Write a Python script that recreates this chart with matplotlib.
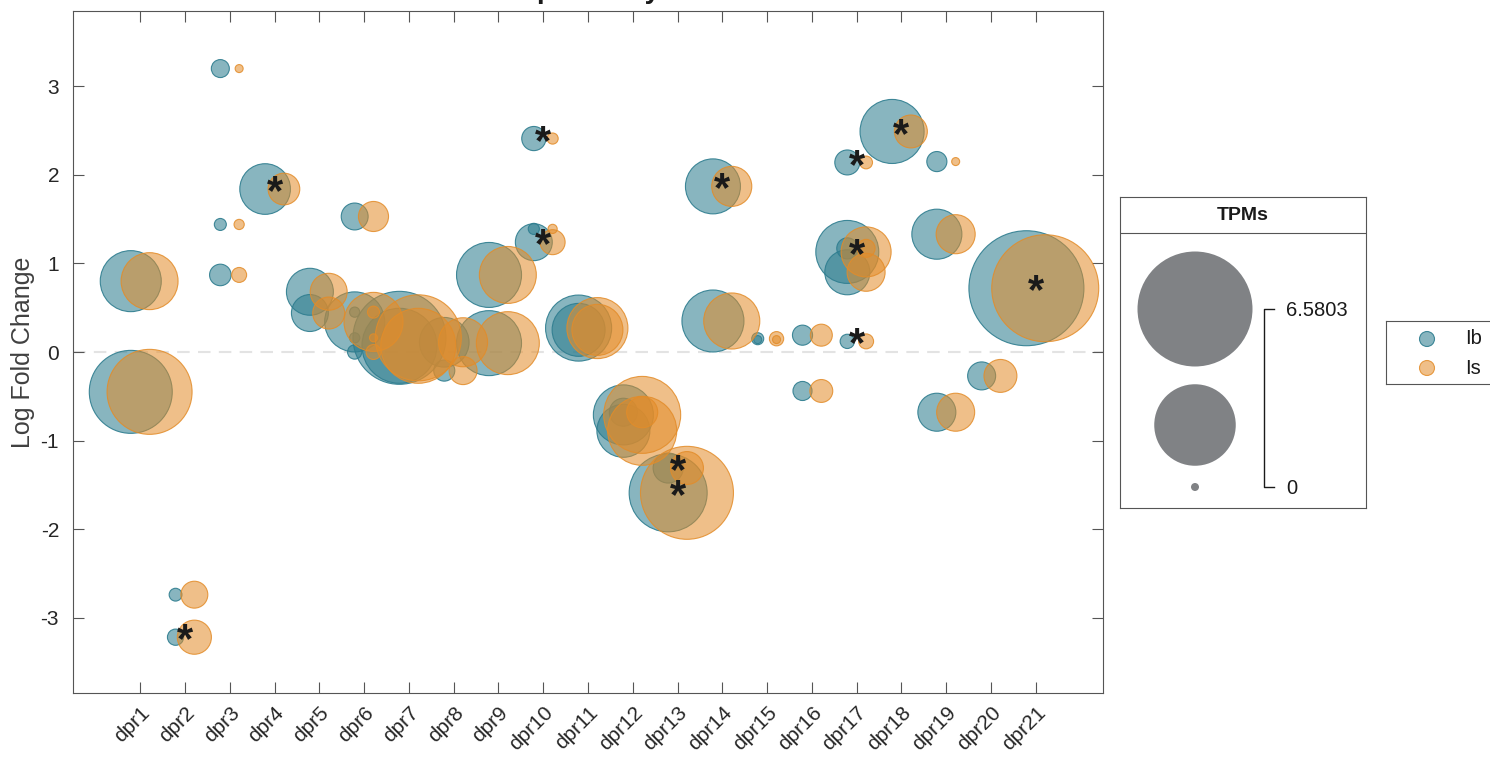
import numpy as np
import matplotlib.pyplot as plt
from matplotlib.transforms import ScaledTranslation

plt.rcParams['font.family'] = ['Liberation Sans', 'DejaVu Sans']
plt.rcParams['axes.unicode_minus'] = False

genes = ['dpr%d' % i for i in range(1, 22)]

# one row per transcript: gene number, log fold change, TPM in Ib, TPM in Is, significant
row_gene = [1, 1, 2, 2, 3, 3, 3, 4, 5, 5,
            6, 6, 6, 6, 6, 7, 7, 8, 8, 9,
            9, 10, 10, 10, 11, 11, 12, 12, 12, 13,
            13, 14, 14, 15, 15, 16, 16, 17, 17, 17,
            17, 17, 18, 19, 19, 19, 20, 21]
lfc = [0.80, -0.45, -2.74, -3.22, 3.20, 1.44, 0.87, 1.84, 0.68, 0.44,
       1.53, 0.34, 0.45, 0.16, 0.00, 0.16, 0.07, 0.11, -0.21, 0.87,
       0.10, 2.41, 1.24, 1.39, 0.27, 0.25, -0.71, -0.89, -0.68, -1.31,
       -1.59, 1.87, 0.35, 0.15, 0.14, 0.19, -0.44, 2.14, 1.13, 0.90,
       1.17, 0.12, 2.49, 2.15, 1.33, -0.68, -0.27, 0.72]
tpm_ib = [1.83, 3.41, 0.05, 0.10, 0.13, 0.04, 0.20, 1.25, 1.07, 0.65,
          0.33, 1.77, 0.02, 0.02, 0.07, 4.29, 2.78, 1.20, 0.19, 2.08,
          2.08, 0.26, 0.65, 0.03, 2.15, 1.37, 1.77, 1.37, 0.36, 0.42,
          3.01, 1.48, 1.89, 0.04, 0.00, 0.17, 0.15, 0.28, 1.95, 0.98,
          0.19, 0.07, 2.02, 0.17, 1.22, 0.69, 0.36, 6.58]
tpm_is = [1.59, 3.58, 0.33, 0.55, 0.00, 0.02, 0.08, 0.47, 0.65, 0.48,
          0.42, 1.71, 0.04, 0.00, 0.08, 3.67, 2.78, 1.17, 0.36, 1.59,
          1.95, 0.03, 0.28, 0.01, 1.83, 1.27, 2.93, 2.35, 0.45, 0.51,
          4.29, 0.77, 1.54, 0.07, 0.00, 0.21, 0.23, 0.05, 1.22, 0.69,
          0.13, 0.08, 0.51, 0.00, 0.73, 0.69, 0.51, 5.69]
sig = [0, 0, 0, 1, 0, 0, 0, 1, 0, 0,
       0, 0, 0, 0, 0, 0, 0, 0, 0, 0,
       0, 1, 1, 0, 0, 0, 0, 0, 0, 1,
       1, 1, 0, 0, 0, 0, 0, 1, 1, 0,
       0, 1, 1, 0, 0, 0, 0, 1]
tpm_max = 6.5803

blue = (0.18, 0.49, 0.56)
orange = (0.89, 0.55, 0.16)


def marker_area(v):
    # circle area grows with TPM, diameter in pixels -> points^2
    d_px = np.sqrt(2000 * np.asarray(v) + 64)
    return (d_px * 0.72) ** 2


fig = plt.figure(figsize=(14.9, 7.63), dpi=100)
ax = fig.add_axes([73 / 1490, 70 / 763, 1030 / 1490, 682 / 763])

x = np.array(row_gene, dtype=float)
ax.axhline(0, color='#e3e3e3', lw=1.5, ls=(0, (6, 4)), zorder=0)
ax.scatter(x - 0.21, lfc, s=marker_area(tpm_ib), facecolors=blue + (0.57,),
           edgecolors=blue + (0.9,), linewidths=0.8, zorder=2)
ax.scatter(x + 0.21, lfc, s=marker_area(tpm_is), facecolors=orange + (0.55,),
           edgecolors=orange + (0.85,), linewidths=0.8, zorder=3)
for g, y, s in zip(row_gene, lfc, sig):
    if s:
        ax.annotate('*', xy=(g, y), xytext=(0, -3), textcoords='offset points',
                    fontsize=30, fontweight='bold', ha='center', va='center',
                    color='#1a1a1a', zorder=4)

ax.set_xlim(-0.5, 22.5)
ax.set_ylim(-3.85, 3.85)
ax.set_xticks(range(1, 22))
ax.set_xticklabels(genes, rotation=45, ha='right', va='top',
                   rotation_mode='anchor')
shift = ScaledTranslation(8 / 100, 0, fig.dpi_scale_trans)
for lab in ax.get_xticklabels():
    lab.set_transform(lab.get_transform() + shift)
ax.set_yticks([-3, -2, -1, 0, 1, 2, 3])
ax.set_ylabel('Log Fold Change', fontsize=18, color='#404040', labelpad=4)
ax.tick_params(direction='in', length=8, top=True, right=True, width=0.8,
               color='#555555', labelcolor='#262626', labelsize=15)
ax.tick_params(axis='y', pad=10)
ax.tick_params(axis='x', pad=7)
for sp in ax.spines.values():
    sp.set_color('#555555')
    sp.set_linewidth(0.8)

fig.text(590 / 1490, 1 + 2 / 763, 'dpr Family', fontsize=20, fontweight='bold',
         ha='center', va='baseline', color='#1a1a1a')

# size legend box
lw_, lh_ = 246, 311
lax = fig.add_axes([1120 / 1490, (763 - 508) / 763, lw_ / 1490, lh_ / 763])
lax.set_xlim(0, lw_)
lax.set_ylim(lh_, 0)
lax.set_xticks([])
lax.set_yticks([])
for sp in lax.spines.values():
    sp.set_color('#555555')
    sp.set_linewidth(0.8)
lax.axhline(36, color='#555555', lw=0.8)
lax.text(lw_ / 2, 19, 'TPMs', fontsize=14, fontweight='bold', ha='center',
         va='center', color='#1a1a1a')
lax.scatter([75, 75, 75], [112, 228, 290],
            s=marker_area([tpm_max, tpm_max / 2, 0]), color='#808285',
            linewidths=0, clip_on=False)
lax.plot([154, 144, 144, 154], [112, 112, 290, 290], color='#1a1a1a', lw=1)
lax.text(166, 113, '%.4f' % tpm_max, fontsize=14.5, va='center', color='#1a1a1a')
lax.text(166, 291, '0', fontsize=14.5, va='center', color='#1a1a1a')

# group legend box
gax = fig.add_axes([1386 / 1490, (763 - 384) / 763, 130 / 1490, 63 / 763])
gax.set_xlim(0, 130)
gax.set_ylim(63, 0)
gax.set_xticks([])
gax.set_yticks([])
for sp in gax.spines.values():
    sp.set_color('#555555')
    sp.set_linewidth(0.8)
gax.scatter([41, 41], [18, 47], s=marker_area([0.08, 0.08]),
            facecolors=[blue + (0.57,), orange + (0.55,)],
            edgecolors=[blue + (0.9,), orange + (0.85,)], linewidths=0.8)
gax.text(79, 18, 'Ib', fontsize=14.5, va='center', color='#1a1a1a')
gax.text(79, 47, 'Is', fontsize=14.5, va='center', color='#1a1a1a')

fig.savefig('out.png', dpi=100)
